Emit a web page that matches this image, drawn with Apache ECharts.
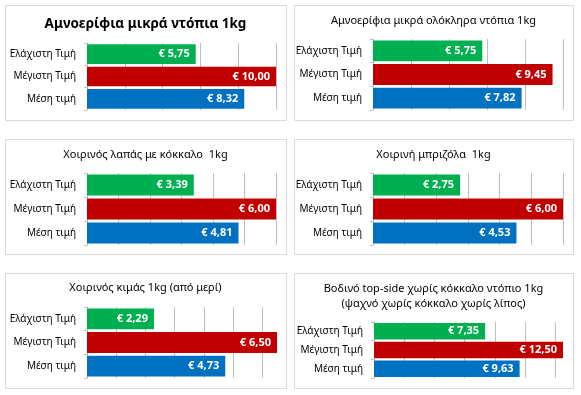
<!DOCTYPE html>
<html>
<head>
<meta charset="utf-8">
<script src="https://cdn.jsdelivr.net/npm/echarts@6/dist/echarts.min.js"></script>
<style>
html,body{margin:0;padding:0;background:#fff;}
#chart{width:581px;height:395px;}
</style>
</head>
<body>
<div id="chart"></div>
<script>
var categories = ['Ελάχιστη Τιμή', 'Μέγιστη Τιμή', 'Μέση τιμή'];
var titles = [
  'Αμνοερίφια μικρά ντόπια 1kg',
  'Αμνοερίφια μικρά ολόκληρα ντόπια 1kg',
  'Χοιρινός λαπάς με κόκκαλο  1kg',
  'Χοιρινή μπριζόλα  1kg',
  'Χοιρινός κιμάς 1kg (από μερί)',
  'Βοδινό top-side χωρίς κόκκαλο ντόπιο 1kg\n(ψαχνό χωρίς κόκκαλο χωρίς λίπος)'
];
var valuesLambKid = [5.75, 10.00, 8.32];
var valuesLambKidWhole = [5.75, 9.45, 7.82];
var valuesPorkShoulder = [3.39, 6.00, 4.81];
var valuesPorkChop = [2.75, 6.00, 4.53];
var valuesPorkMince = [2.29, 6.50, 4.73];
var valuesBeefTopside = [7.35, 12.50, 9.63];
var axisMax = [10, 10, 6, 6, 6.5, 12.5];
var axisInterval = [2, 2, 1, 1, 1, 2];
var allValues = [valuesLambKid, valuesLambKidWhole, valuesPorkShoulder, valuesPorkChop, valuesPorkMince, valuesBeefTopside];

var barColors = ['#00B050', '#C00000', '#0070C0'];
var FONT = 'Noto Sans';

// layout (positions/sizes)
var panels = [
  {x: 5, y: 5, w: 281, h: 115},
  {x: 294, y: 5, w: 279, h: 115},
  {x: 5, y: 139, w: 281, h: 115},
  {x: 294, y: 139, w: 279, h: 115},
  {x: 5, y: 273, w: 281, h: 115},
  {x: 294, y: 273, w: 279, h: 115}
];
var grids = [
  {left: 87, top: 43, width: 189, height: 67},
  {left: 373, top: 39, width: 190, height: 71},
  {left: 87, top: 173, width: 189, height: 72},
  {left: 373, top: 173, width: 190, height: 72},
  {left: 87, top: 307, width: 190, height: 71},
  {left: 374, top: 322, width: 189, height: 56}
];
var titleCenterY = [24, 21, 155, 155, 288, 296.5];
var titleSize = [13.5, 11, 11, 11, 11, 11];
var titleBold = [true, false, false, false, false, false];

var option = {
  backgroundColor: '#fff',
  animation: false,
  title: [],
  grid: [],
  xAxis: [],
  yAxis: [],
  series: [],
  graphic: []
};

for (var i = 0; i < 6; i++) {
  var p = panels[i];
  option.graphic.push({
    type: 'rect',
    shape: {x: p.x + 0.5, y: p.y + 0.5, width: p.w, height: p.h},
    style: {fill: 'none', stroke: '#D9D9D9', lineWidth: 1},
    silent: true,
    z: -1
  });
  var lines = titles[i].split('\n').length;
  var lh = i === 5 ? 15 : titleSize[i] + 4;
  option.title.push({
    text: titles[i],
    left: p.x + p.w / 2,
    top: titleCenterY[i] - lines * lh / 2,
    textAlign: 'center',
    padding: 0,
    textStyle: {
      fontFamily: FONT,
      fontSize: titleSize[i],
      fontWeight: titleBold[i] ? 'bold' : 'normal',
      color: '#000',
      lineHeight: lh
    }
  });
  option.grid.push(Object.assign({containLabel: false}, grids[i]));
  option.xAxis.push({
    type: 'value',
    gridIndex: i,
    min: 0,
    max: axisMax[i],
    interval: axisInterval[i],
    axisLabel: {show: false},
    axisLine: {show: false},
    axisTick: {show: false},
    splitLine: {show: true, showMinLine: false, showMaxLine: axisMax[i] % axisInterval[i] === 0, lineStyle: {color: '#BFBFBF', width: 1}}
  });
  option.yAxis.push({
    type: 'category',
    gridIndex: i,
    data: categories,
    inverse: true,
    axisLine: {show: true, lineStyle: {color: '#BFBFBF', width: 1}},
    axisTick: {show: true, length: 3, lineStyle: {color: '#BFBFBF'}},
    axisLabel: {fontFamily: FONT, fontSize: 10, color: '#000', margin: 11}
  });
  option.series.push({
    type: 'bar',
    xAxisIndex: i,
    yAxisIndex: i,
    barCategoryGap: '12%',
    data: allValues[i].map(function (v, k) {
      return {value: v, itemStyle: {color: barColors[k]}};
    }),
    label: {
      show: true,
      position: 'insideRight',
      distance: 6,
      color: '#fff',
      fontFamily: FONT,
      fontWeight: 'bold',
      fontSize: 11,
      formatter: function (d) { return '€ ' + d.value.toFixed(2).replace('.', ','); }
    }
  });
}

var chart = echarts.init(document.getElementById('chart'), null, {renderer: 'canvas'});
chart.setOption(option);
</script>
</body>
</html>
